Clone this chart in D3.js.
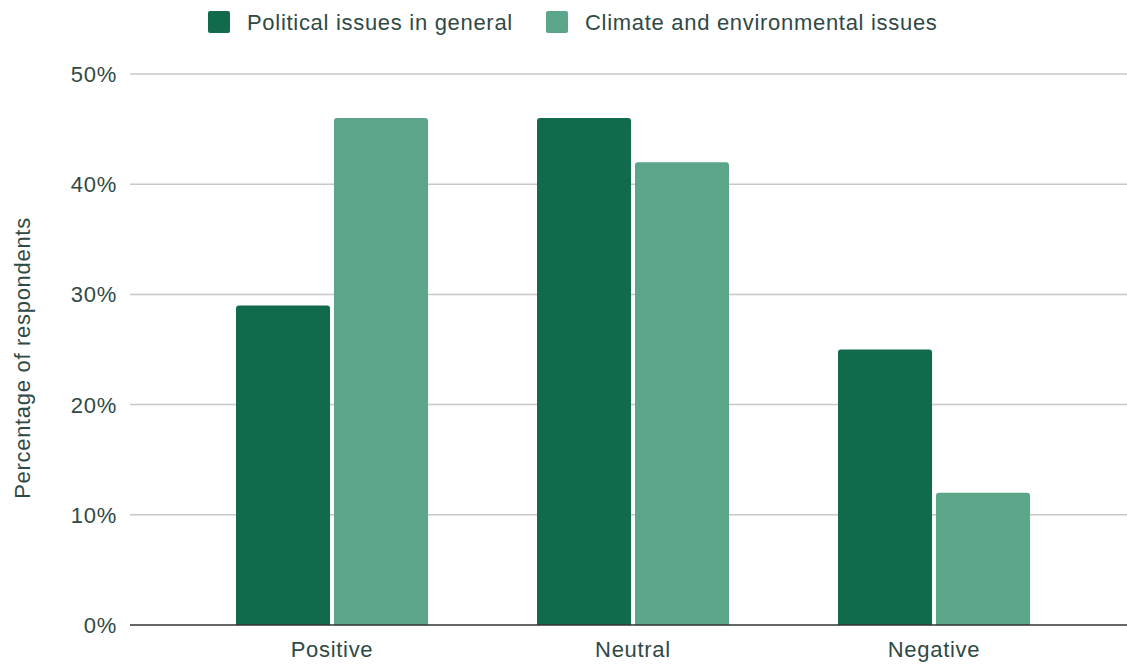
<!DOCTYPE html>
<html>
<head>
<meta charset="utf-8">
<script src="https://cdn.jsdelivr.net/npm/d3@7"></script>
<style>
  html, body { margin: 0; padding: 0; background: #fff; }
  svg { display: block; font-family: Arial, "Liberation Sans", sans-serif; }
  svg text { font-size: 22px; letter-spacing: 0.7px; }
</style>
</head>
<body>
<svg id="chart" width="1127" height="664"></svg>
<script>
// Sentiment categories and the share of respondents for each topic
const categories = ["Positive", "Neutral", "Negative"];
const seriesNames = ["Political issues in general", "Climate and environmental issues"];
const politicalValues = [29, 46, 25];
const climateValues = [46, 42, 12];
const yTicks = [0, 10, 20, 30, 40, 50];
const colors = ["#116a4c", "#5ba688"];
const textColor = "#2f4a44";

const svg = d3.select("#chart");
const plot = { left: 130, right: 1127, top: 74, bottom: 625 };

const y = d3.scaleLinear().domain([0, 50]).range([plot.bottom, plot.top]);
const x0 = d3.scaleBand().domain(categories).range([181.5, 1084.5]).padding(0);
const x1 = d3.scaleBand().domain(seriesNames)
  .range([x0.bandwidth() / 2 - 96, x0.bandwidth() / 2 + 96]).paddingInner(0.04);

const rows = categories.map((c, i) => ({
  cat: c,
  vals: [politicalValues[i], climateValues[i]]
}));

// Gridlines
svg.append("g").selectAll("line").data(yTicks.filter(t => t > 0)).join("line")
  .attr("x1", plot.left).attr("x2", plot.right)
  .attr("y1", d => y(d)).attr("y2", d => y(d))
  .attr("stroke", "#c8c8c8").attr("stroke-width", 1.5);

// Y tick labels
svg.append("g").selectAll("text").data(yTicks).join("text")
  .attr("x", 117).attr("y", d => y(d))
  .attr("dy", "0.36em")
  .attr("text-anchor", "end")
  .attr("fill", textColor)
  .text(d => d + "%");

// Bars with slightly rounded top corners
function barPath(x, yTop, w, yBase, r) {
  const h = yBase - yTop;
  r = Math.min(r, h, w / 2);
  return `M${x},${yBase}V${yTop + r}Q${x},${yTop} ${x + r},${yTop}H${x + w - r}Q${x + w},${yTop} ${x + w},${yTop + r}V${yBase}Z`;
}

const groups = svg.append("g").selectAll("g").data(rows).join("g")
  .attr("transform", d => `translate(${x0(d.cat)},0)`);

groups.selectAll("path").data(d => d.vals.map((v, j) => ({ v, s: seriesNames[j], j })))
  .join("path")
  .attr("d", d => barPath(x1(d.s), y(d.v), x1.bandwidth(), y(0), 3))
  .attr("fill", d => colors[d.j]);

// Baseline
svg.append("line")
  .attr("x1", plot.left).attr("x2", plot.right)
  .attr("y1", y(0)).attr("y2", y(0))
  .attr("stroke", "#333").attr("stroke-width", 1.5);

// Category labels
svg.append("g").selectAll("text").data(categories).join("text")
  .attr("x", d => x0(d) + x0.bandwidth() / 2)
  .attr("y", 657)
  .attr("text-anchor", "middle")
  .attr("fill", textColor)
  .text(d => d);

// Y axis title
svg.append("text")
  .attr("transform", "translate(30,358) rotate(-90)")
  .attr("text-anchor", "middle")
  .attr("fill", textColor)
  .text("Percentage of respondents");

// Legend
const legendX = [208, 546];
const legend = svg.append("g").selectAll("g").data(seriesNames).join("g")
  .attr("transform", (d, i) => `translate(${legendX[i]},11)`);
legend.append("rect")
  .attr("width", 22).attr("height", 22).attr("rx", 2)
  .attr("fill", (d, i) => colors[i]);
legend.append("text")
  .attr("x", 39).attr("y", 11).attr("dy", "0.36em")
  .attr("fill", textColor)
  .text(d => d);
</script>
</body>
</html>
